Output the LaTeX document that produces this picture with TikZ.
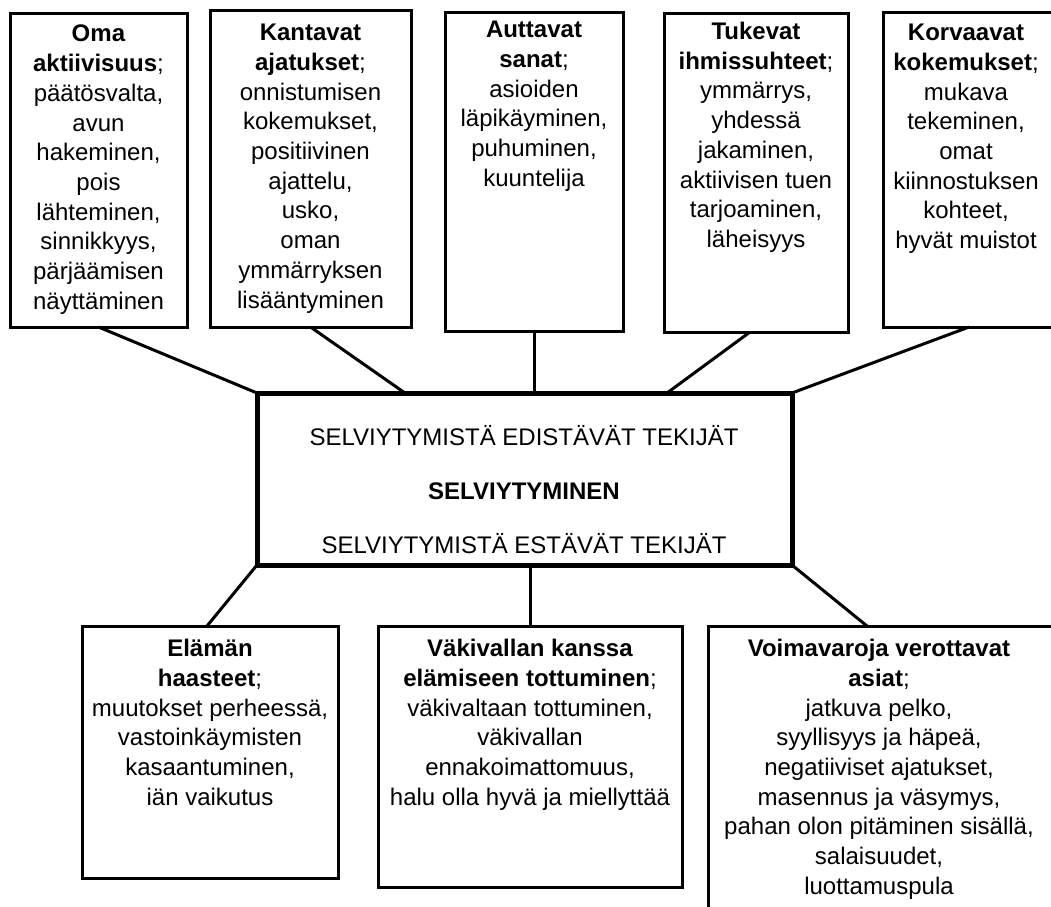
\documentclass[tikz,border=0pt]{standalone}
\usepackage{fontspec}
\setmainfont{Liberation Sans}
\begin{document}
\begin{tikzpicture}[x=1pt,y=-1pt,
  frame/.style={draw, line width=3pt, anchor=north west, inner sep=0pt, outer sep=0pt},
  ghost/.style={anchor=north west, inner sep=0pt, outer sep=0pt},
  corebox/.style={draw, line width=5pt, anchor=north west, inner sep=0pt, outer sep=0pt},
  txt/.style={anchor=north, align=center, inner sep=0pt, font=\fontsize{24}{29.7}\selectfont},
  coretxt/.style={anchor=north, align=center, inner sep=0pt, font=\fontsize{24}{54}\selectfont},
  link/.style={line width=3pt},
  edge/.style={line width=3pt, line cap=rect}]
\useasboundingbox (0,0) rectangle (1051,906);

% top frames
\node[frame, minimum width=177pt, minimum height=314pt] (oma) at (10,13) {};
\node[frame, minimum width=201pt, minimum height=317pt] (kant) at (210,10) {};
\node[frame, minimum width=178pt, minimum height=319pt] (autt) at (445,12) {};
\node[frame, minimum width=184pt, minimum height=319pt] (tuke) at (664,13) {};
\node[ghost, minimum width=168pt, minimum height=315pt] (korv) at (883,12) {};
\draw[edge] (korv.north east) -- (korv.north west) -- (korv.south west) -- (korv.south east);

% core
\node[corebox, minimum width=535pt, minimum height=172pt] (core) at (257,393) {};

% bottom frames
\node[frame, minimum width=256pt, minimum height=252pt] (elam) at (82,626) {};
\node[frame, minimum width=304pt, minimum height=261pt] (vaki) at (378,626) {};
\node[ghost, minimum width=343pt, minimum height=280pt] (voim) at (708,626) {};
\draw[edge] (voim.north east) -- (voim.north west) -- (voim.south west);

% texts
\node[txt] (omat) at (98.5,25) {\textbf{Oma}\\\textbf{aktiivisuus};\\päätösvalta,\\avun\\hakeminen,\\pois\\lähteminen,\\sinnikkyys,\\pärjäämisen\\näyttäminen};
\node[txt] (kantt) at (310.5,24) {\textbf{Kantavat}\\\textbf{ajatukset};\\onnistumisen\\kokemukset,\\positiivinen\\ajattelu,\\usko,\\oman\\ymmärryksen\\lisääntyminen};
\node[txt] (auttt) at (534,21) {\textbf{Auttavat}\\\textbf{sanat};\\asioiden\\läpikäyminen,\\puhuminen,\\kuuntelija};
\node[txt] (tuket) at (756,22) {\textbf{Tukevat}\\\textbf{ihmissuhteet};\\ymmärrys,\\yhdessä\\jakaminen,\\aktiivisen tuen\\tarjoaminen,\\läheisyys};
\node[txt] (korvt) at (966,24) {\textbf{Korvaavat}\\\textbf{kokemukset};\\mukava\\tekeminen,\\omat\\kiinnostuksen\\kohteet,\\hyvät muistot};

\node[coretxt] (coret) at (524,425) {SELVIYTYMISTÄ EDISTÄVÄT TEKIJÄT\\\textbf{SELVIYTYMINEN}\\SELVIYTYMISTÄ ESTÄVÄT TEKIJÄT};

\node[txt] (elamt) at (210,639) {\textbf{Elämän}\\\textbf{haasteet};\\muutokset perheessä,\\vastoinkäymisten\\kasaantuminen,\\iän vaikutus};
\node[txt] (vakit) at (530,639) {\textbf{Väkivallan kanssa}\\\textbf{elämiseen tottuminen};\\väkivaltaan tottuminen,\\väkivallan\\ennakoimattomuus,\\halu olla hyvä ja miellyttää};
\node[txt] (voimt) at (879,639) {\textbf{Voimavaroja verottavat}\\\textbf{asiat};\\jatkuva pelko,\\syyllisyys ja häpeä,\\negatiiviset ajatukset,\\masennus ja väsymys,\\pahan olon pitäminen sisällä,\\salaisuudet,\\luottamuspula};

% connectors
\draw[link] (oma.south) -- (core.north west);
\draw[link] (kant.south) -- ([xshift=148pt]core.north west);
\draw[link] (autt.south) -- (autt.south |- core.north);
\draw[link] ([xshift=-6pt]tuke.south) -- ([xshift=410pt]core.north west);
\draw[link] ([xshift=86pt]korv.south west) -- (core.north east);
\draw[link] (core.south west) -- ([xshift=-3pt]elam.north);
\draw[link] (vaki.north) -- (vaki.north |- core.south);
\draw[link] (core.south east) -- ([xshift=159pt]voim.north west);
\end{tikzpicture}
\end{document}
